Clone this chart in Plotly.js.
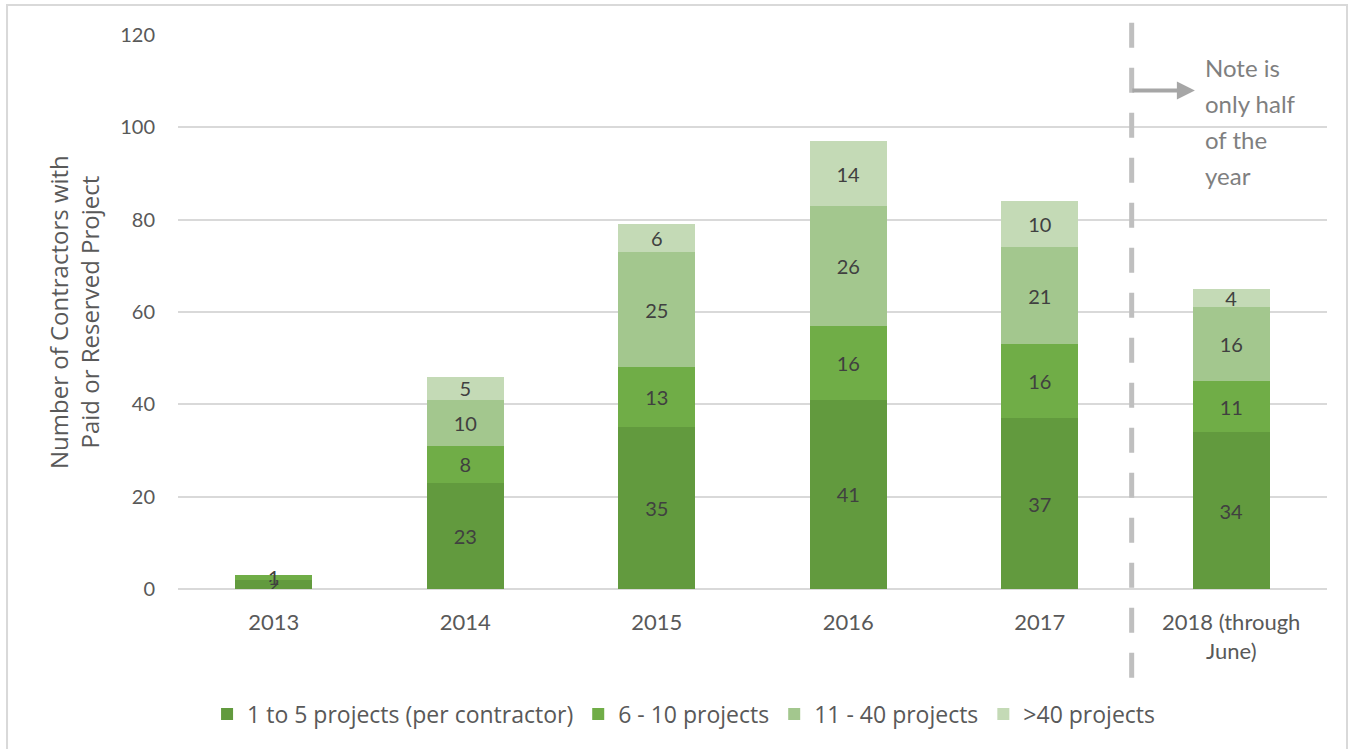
<!DOCTYPE html>
<html>
<head>
<meta charset="utf-8">
<script src="https://cdn.plot.ly/plotly-3.0.1.min.js"></script>
<style>html,body{margin:0;padding:0;background:#fff;}#chart{width:1357px;height:749px;}</style>
</head>
<body>
<div id="chart"></div>
<script>
const categories = ["2013", "2014", "2015", "2016", "2017", "2018 (through<br>June)"];
const seriesNames = ["1 to 5 projects (per contractor)", "6 - 10 projects", "11 - 40 projects", ">40 projects"];
const s1to5 = [2, 23, 35, 41, 37, 34];
const s6to10 = [1, 8, 13, 16, 16, 11];
const s11to40 = [0, 10, 25, 26, 21, 16];
const s40plus = [0, 5, 6, 14, 10, 4];
const yTicks = [0, 20, 40, 60, 80, 100, 120];
const noteLines = ["Note is", "only half", "of the", "year"];
const colors = ["#629A3E", "#70AD47", "#A3C78E", "#C4DAB6"];

const font = "Lato, 'Open Sans', sans-serif";
const font2 = "'Open Sans', Lato, sans-serif";
const values = [s1to5, s6to10, s11to40, s40plus];
const traces = values.map((v, i) => ({
  type: "bar",
  name: seriesNames[i],
  x: categories,
  y: v,
  width: 0.4,
  marker: {color: colors[i], line: {width: 0}},
  text: v.map(String),
  textposition: "inside",
  insidetextanchor: "middle",
  constraintext: "none",
  textangle: 0,
  textfont: {family: font, size: 20, color: "#404040"},
  hoverinfo: "y+name"
}));

const noteAnns = noteLines.map((t, i) => ({
  xref: "x", yref: "y", x: 4.85, y: 112.9 - i * 7.8, xanchor: "left", yanchor: "middle", align: "left",
  text: t, showarrow: false, font: {family: font, size: 24, color: "#7f7f7f"}
}));

const layout = {
  width: 1357, height: 749,
  margin: {l: 178, r: 30, t: 35, b: 160},
  paper_bgcolor: "#fff", plot_bgcolor: "#fff",
  barmode: "stack",
  uniformtext: {mode: "show", minsize: 20},
  showlegend: true,
  legend: {orientation: "h", x: 0.44, xanchor: "center", y: -0.2256, yanchor: "middle",
    font: {family: font2, size: 23, color: "#595959"}, traceorder: "normal", itemwidth: 30,
    tracegroupgap: 0},
  xaxis: {type: "category", tickfont: {family: font, size: 22, color: "#595959"},
    showgrid: false, showline: false, ticks: "", ticklen: 0, ticklabelstandoff: 18, automargin: false},
  yaxis: {range: [0, 120], tickvals: yTicks, ticktext: yTicks.map(String),
    tickfont: {family: font, size: 20, color: "#595959"},
    gridcolor: "#d9d9d9", gridwidth: 2, zeroline: true, zerolinecolor: "#d9d9d9", zerolinewidth: 2,
    showline: false, ticks: "", ticklabelstandoff: 22, automargin: false},
  shapes: [
    {type: "line", xref: "x", yref: "paper", x0: 4.48, x1: 4.48, y0: -0.16, y1: 1.027,
     line: {color: "#bfbfbf", width: 5, dash: "25px,20px"}},
    {type: "rect", xref: "paper", yref: "paper", x0: -0.1488, x1: 1.0174, y0: -0.32, y1: 1.054,
     line: {color: "#d9d9d9", width: 2}, fillcolor: "rgba(0,0,0,0)", layer: "below"}
  ],
  annotations: [
    {xref: "paper", yref: "paper", x: -0.0905, y: 0.5, xanchor: "center", yanchor: "middle",
     text: "Number of Contractors with<br>Paid or Reserved Project", textangle: -90, showarrow: false,
     font: {family: font2, size: 24, color: "#595959"}},
    {xref: "x", yref: "y", x: 4.81, y: 108, ax: -64, ay: 0, axref: "pixel", ayref: "pixel",
     showarrow: true, arrowhead: 2, arrowsize: 0.9, arrowwidth: 4, arrowcolor: "#a6a6a6", text: ""}
  ].concat(noteAnns)
};

Plotly.newPlot("chart", traces, layout, {displayModeBar: false, staticPlot: true});
</script>
</body>
</html>
